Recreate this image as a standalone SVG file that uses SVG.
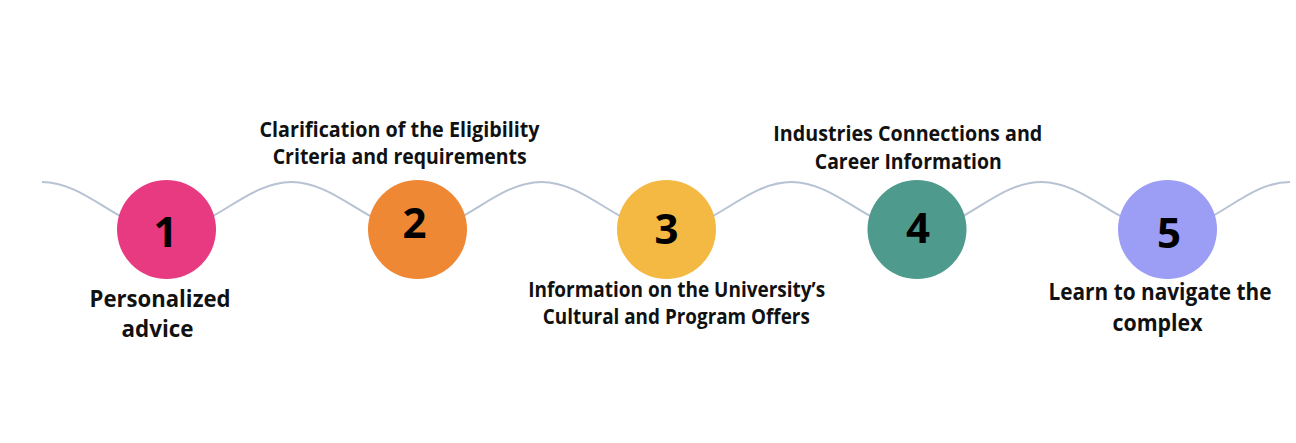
<svg xmlns="http://www.w3.org/2000/svg" width="1296" height="443" viewBox="0 0 1296 443">
  <style>
    .wave { fill: none; stroke: #B7C2D3; stroke-width: 2; }
    .num { font-family: "Open Sans", "Liberation Sans", sans-serif; font-weight: 700; font-size: 42px; fill: #000; text-anchor: middle; }
    .lbl { font-family: "Open Sans", "Liberation Sans", sans-serif; font-weight: 700; font-size: 21px; fill: #111; text-anchor: middle; }
    .lbl-lg { font-family: "Open Sans", "Liberation Sans", sans-serif; font-weight: 700; font-size: 22.5px; fill: #111; text-anchor: middle; }
  </style>
  <rect width="1296" height="443" fill="#ffffff"/>
  <g id="connectors">
    <path class="wave" d="M42,182 C87,182 121,231 166.5,231 C212,231 246,182 291.5,182 C337,182 371,231 417,231 C462,231 496,182 541.5,182 C587,182 621,231 666.5,231 C712,231 746,182 791.5,182 C837,182 871,231 917,231 C962,231 996,182 1041.5,182 C1087,182 1121,231 1167,231 C1212,231 1245,182 1290,182"/>
  </g>
  <g id="node1">
    <circle cx="166.5" cy="229.5" r="49.5" fill="#E83A80"/>
    <text class="num" x="165.5" y="247">1</text>
    <text class="lbl-lg" x="160" y="307" textLength="141" lengthAdjust="spacingAndGlyphs">Personalized</text>
    <text class="lbl-lg" x="157.5" y="337" textLength="72" lengthAdjust="spacingAndGlyphs">advice</text>
  </g>
  <g id="node2">
    <circle cx="417.5" cy="229.5" r="49.5" fill="#EF8834"/>
    <text class="num" x="414.5" y="238">2</text>
    <text class="lbl" x="399.5" y="136.5" textLength="280" lengthAdjust="spacingAndGlyphs">Clarification of the Eligibility</text>
    <text class="lbl" x="399.7" y="163.5" textLength="254" lengthAdjust="spacingAndGlyphs">Criteria and requirements</text>
  </g>
  <g id="node3">
    <circle cx="666.5" cy="229.5" r="49.5" fill="#F4B942"/>
    <text class="num" x="666.5" y="244">3</text>
    <text class="lbl" x="676.7" y="297.3" textLength="297" lengthAdjust="spacingAndGlyphs">Information on the University’s</text>
    <text class="lbl" x="676.3" y="324" textLength="267" lengthAdjust="spacingAndGlyphs">Cultural and Program Offers</text>
  </g>
  <g id="node4">
    <circle cx="917" cy="229.5" r="49.5" fill="#4E9A8C"/>
    <text class="num" x="918" y="243">4</text>
    <text class="lbl" x="907.8" y="141" textLength="269" lengthAdjust="spacingAndGlyphs">Industries Connections and</text>
    <text class="lbl" x="908.3" y="169.3" textLength="187" lengthAdjust="spacingAndGlyphs">Career Information</text>
  </g>
  <g id="node5">
    <circle cx="1167.5" cy="229.5" r="49.5" fill="#9C9DF4"/>
    <text class="num" x="1169" y="248">5</text>
    <text class="lbl-lg" x="1160" y="300" textLength="223" lengthAdjust="spacingAndGlyphs">Learn to navigate the</text>
    <text class="lbl-lg" x="1157.5" y="330.5" textLength="90" lengthAdjust="spacingAndGlyphs">complex</text>
  </g>
</svg>
